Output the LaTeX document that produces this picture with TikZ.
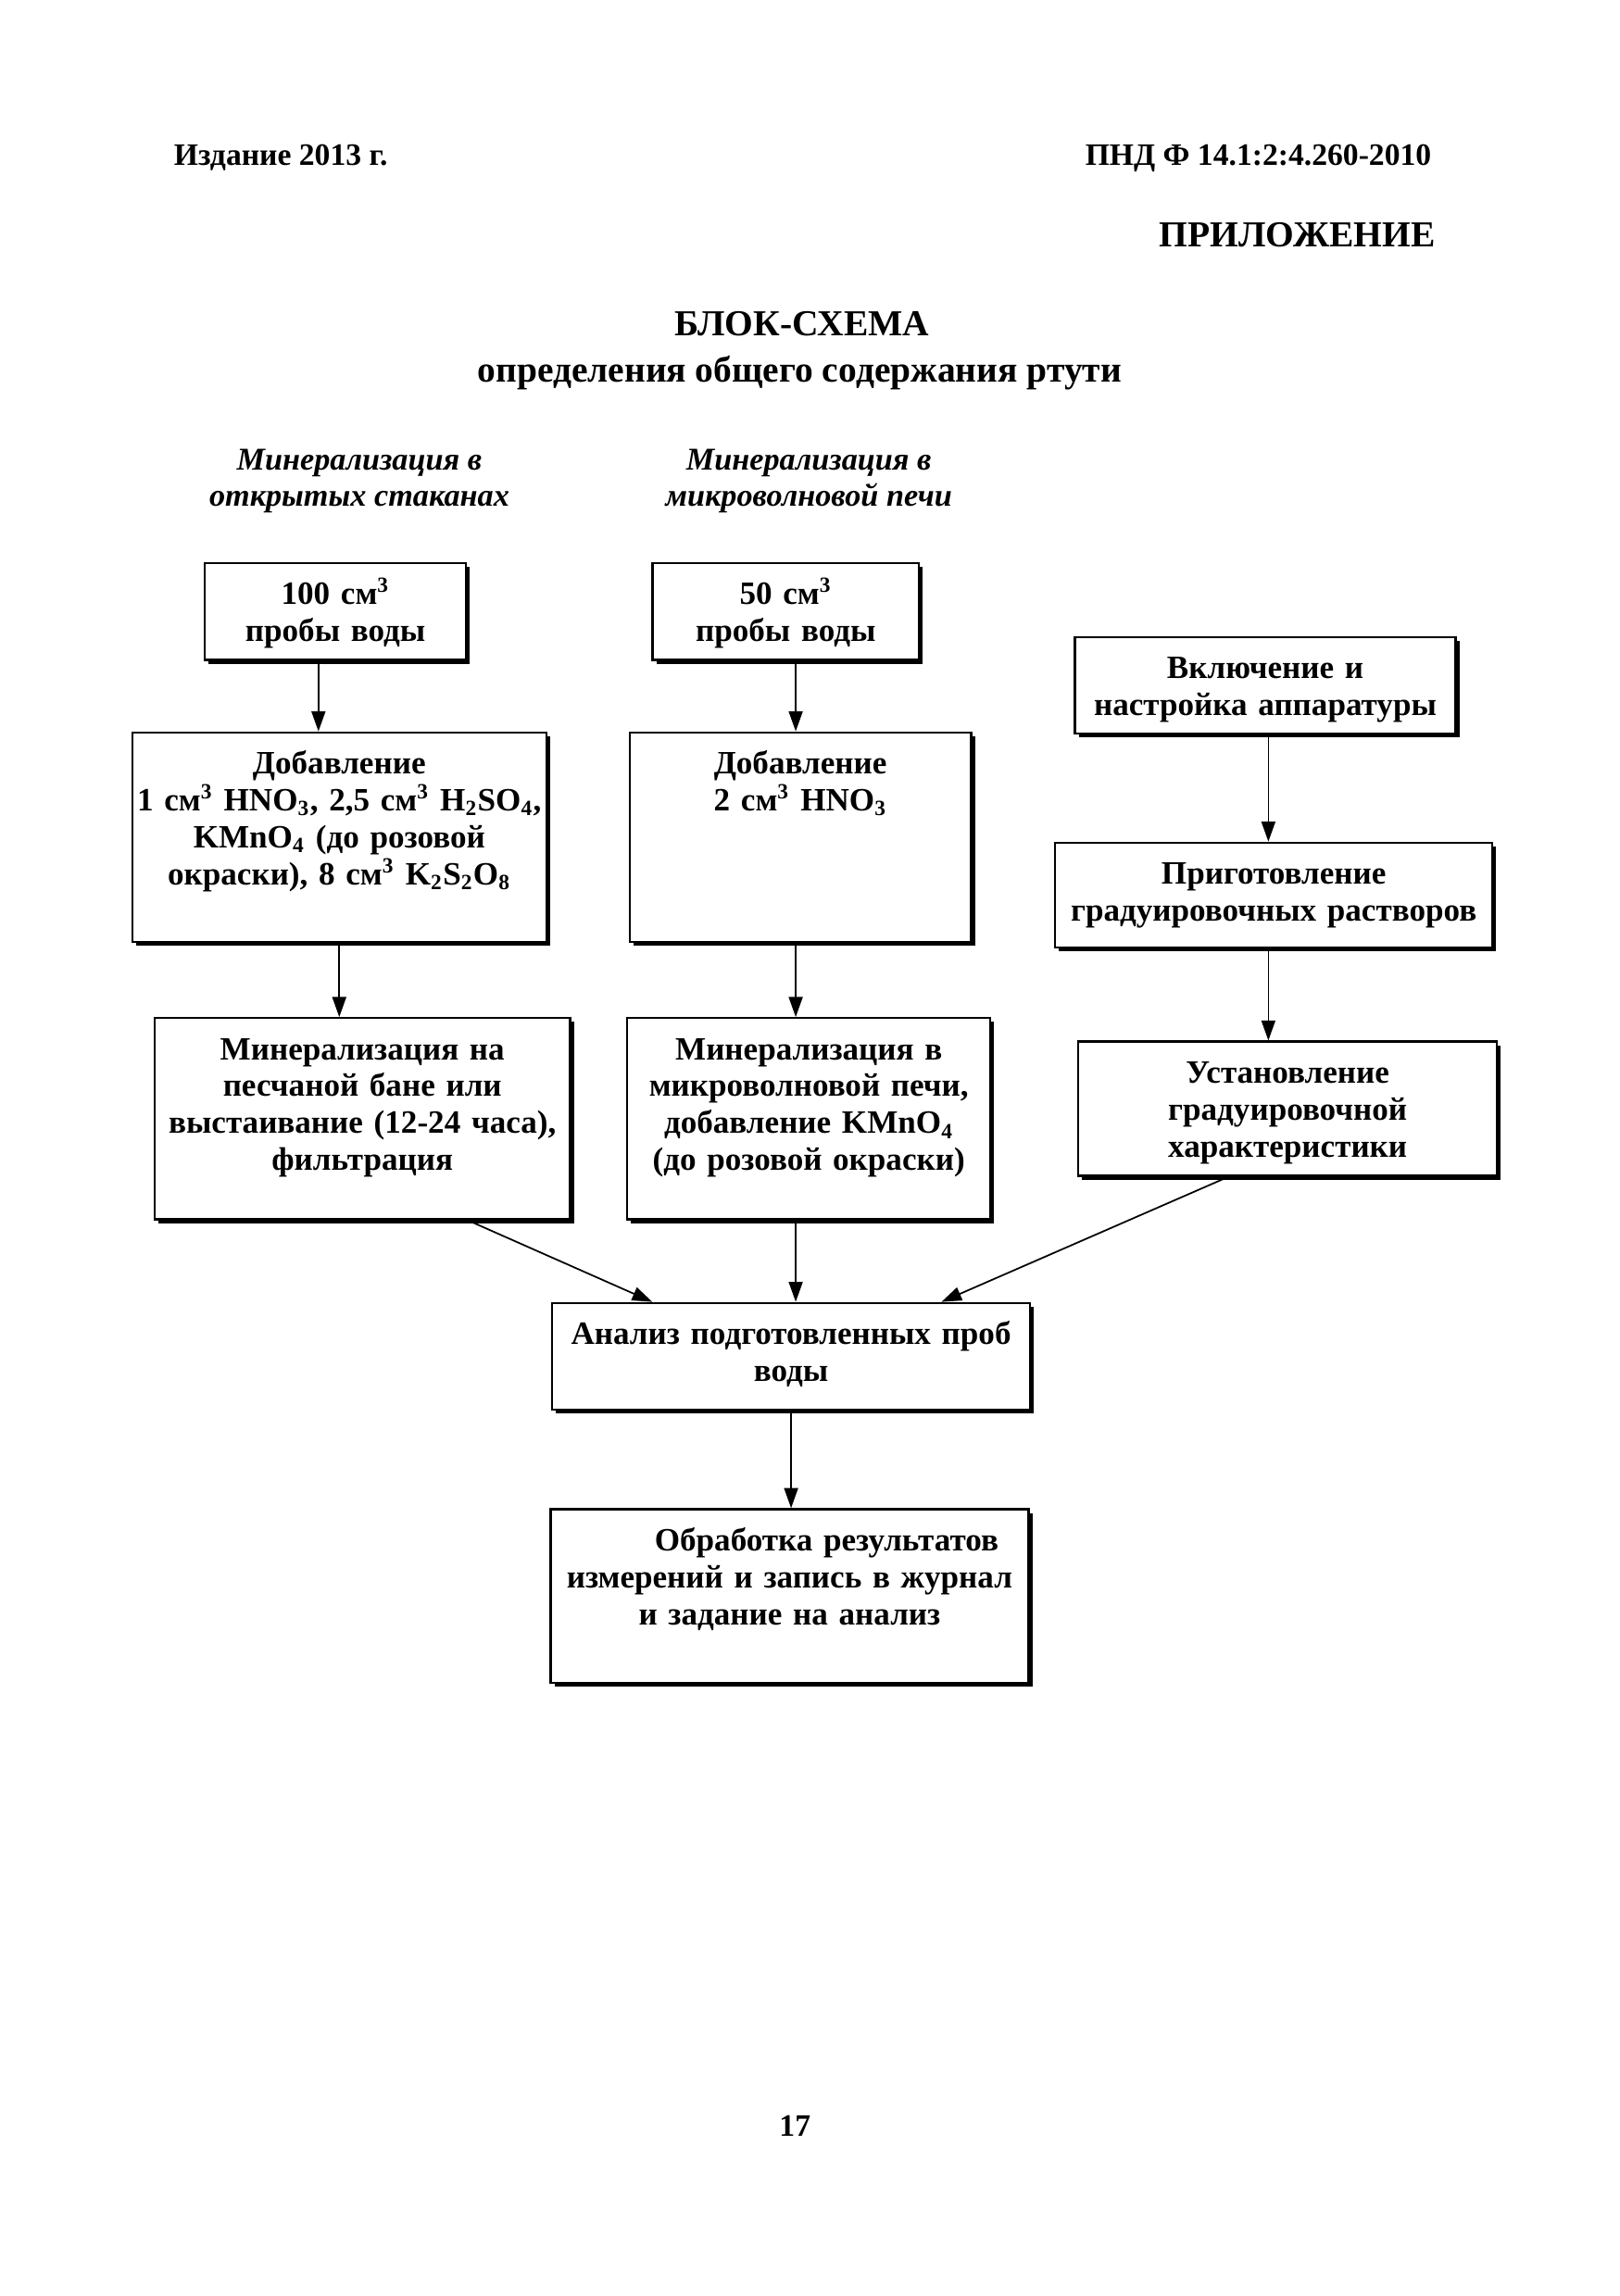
\documentclass[tikz,border=0pt]{standalone}
\usepackage{fontspec}
\setmainfont{Liberation Serif}
\usepackage{tikz}
\usetikzlibrary{arrows.meta}
\usetikzlibrary{shadows}
\usetikzlibrary{calc}
\tikzset{
	stepbox/.style={draw=black, line width=0.8pt, fill=white, inner xsep=0pt, inner ysep=0pt,
		align=center, text height=5.4mm, font=\bfseries\fontsize{12}{13.6}\selectfont,
		drop shadow={shadow xshift=0.5mm, shadow yshift=-0.5mm, fill=black, opacity=1}},
	flow/.style={-{Triangle[length=2.6mm,width=1.8mm]}, line width=0.6pt},
	pagetext/.style={inner sep=0pt, font=\bfseries\fontsize{11.5}{14}\selectfont},
	headtext/.style={inner sep=0pt, font=\bfseries\fontsize{13.5}{16}\selectfont},
	routetext/.style={inner sep=0pt, align=center, font=\bfseries\itshape\fontsize{11.7}{13.6}\selectfont}
}
\newcommand{\cmcube}{см\textsuperscript{3}}

\begin{document}
\begin{tikzpicture}[x=1mm, y=-1mm]
	\path[use as bounding box, fill=white] (0,0) rectangle (210,297.8);
	
	% page head
	\node[pagetext, anchor=base west] (edition) at (22.5,21.4) {Издание 2013 г.};
	\node[pagetext, anchor=base east] (docid) at (185.7,21.4) {ПНД Ф 14.1:2:4.260-2010};
	\node[headtext, anchor=base east] (appendix) at (186.2,32.0) {ПРИЛОЖЕНИЕ};
	\node[headtext, anchor=base] (title) at (104.0,43.6) {БЛОК-СХЕМА};
	\node[headtext, anchor=base] (subtitle) at (103.7,49.5) {определения общего содержания ртути};
	
	% routes (base is the second line)
	\node[routetext, anchor=base] (openroute) at (46.6,65.7) {Минерализация в\\открытых стаканах};
	\node[routetext, anchor=base] (waveroute) at (104.9,65.7) {Минерализация в\\микроволновой печи};
	
	% left column
	\node[stepbox, text width=33.9mm, text depth=7.2mm] (sample1) at (43.5,79.3) {100 \cmcube\\пробы воды};
	\node[stepbox, text width=53.7mm, text depth=21.8mm] (acid1) at (44.0,108.6)
	{Добавление\\1 \cmcube{} HNO\textsubscript{3}, 2,5 \cmcube{} H\textsubscript{2}SO\textsubscript{4},\\KMnO\textsubscript{4} (до розовой\\окраски), 8 \cmcube{} K\textsubscript{2}S\textsubscript{2}O\textsubscript{8}};
	\node[stepbox, text width=53.9mm, text depth=20.7mm] (mineral1) at (47.0,145.1)
	{Минерализация на\\песчаной бане или\\выстаивание (12-24 часа),\\фильтрация};
	
	% middle column
	\node[stepbox, text width=34.5mm, text depth=7.2mm] (sample2) at (101.9,79.3) {50 \cmcube\\пробы воды};
	\node[stepbox, text width=44.3mm, text depth=21.8mm] (acid2) at (103.8,108.6)
	{Добавление\\2 \cmcube{} HNO\textsubscript{3}};
	\node[stepbox, text width=47.1mm, text depth=20.7mm] (mineral2) at (104.9,145.1)
	{Минерализация в\\микроволновой печи,\\добавление KMnO\textsubscript{4}\\(до розовой окраски)};
	
	% right column
	\node[stepbox, text width=49.4mm, text depth=7.1mm] (setup) at (164.1,88.9) {Включение и\\настройка аппаратуры};
	\node[stepbox, text width=56.7mm, text depth=8.2mm] (standards) at (165.2,116.1) {Приготовление\\градуировочных растворов};
	\node[stepbox, text width=54.3mm, text depth=12.0mm] (calib) at (167.0,143.8) {Установление\\градуировочной\\характеристики};
	
	% bottom
	\node[stepbox, text width=62.0mm, text depth=8.4mm] (analysis) at (102.6,175.9) {Анализ подготовленных проб\\воды};
	\node[stepbox, text width=62.0mm, text depth=17.1mm] (report) at (102.4,207.0)
	{\hspace*{9.6mm}Обработка результатов\\измерений и запись в журнал\\и задание на анализ};
	
	% arrows
	\draw[flow] ([xshift=-2.2mm]sample1.south) -- ([xshift=-2.2mm]sample1.south |- acid1.north);
	\draw[flow] (acid1.south) -- (acid1.south |- mineral1.north);
	\draw[flow] ([xshift=1.3mm]sample2.south) -- ([xshift=1.3mm]sample2.south |- acid2.north);
	\draw[flow] ([xshift=-0.6mm]acid2.south) -- ([xshift=-0.6mm]acid2.south |- mineral2.north);
	\draw[flow] ([xshift=0.4mm]setup.south) -- ([xshift=0.4mm]setup.south |- standards.north);
	\draw[flow] ([xshift=-0.7mm]standards.south) -- ([xshift=-0.7mm]standards.south |- calib.north);
	\draw[flow] ([xshift=13.7mm]mineral1.south) -- ([xshift=-18mm]analysis.north);
	\draw[flow] ([xshift=-1.7mm]mineral2.south) -- ([xshift=-1.7mm]mineral2.south |- analysis.north);
	\draw[flow] ([xshift=-7.7mm]calib.south) -- ([xshift=19.5mm]analysis.north);
	\draw[flow] (analysis.south) -- (analysis.south |- report.north);
	
	% page number
	\node[pagetext, anchor=base] (pagenum) at (103.1,277.1) {17};
\end{tikzpicture}
\end{document}
